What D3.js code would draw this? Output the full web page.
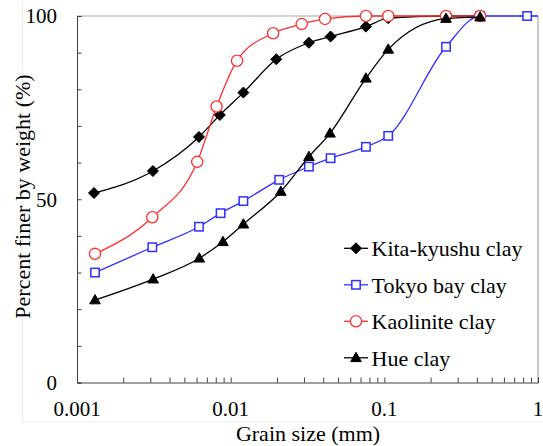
<!DOCTYPE html>
<html>
<head>
<meta charset="utf-8">
<script src="https://cdn.jsdelivr.net/npm/d3@7"></script>
<style>
  body { margin: 0; background: #fff; }
</style>
</head>
<body>
<div id="chart"></div>
<script>
// grain size (mm) and percent finer (%)
const kitaSize = [0.00129, 0.00312, 0.00622, 0.0085, 0.0121, 0.0198, 0.0323, 0.0447, 0.0759, 0.106, 0.252, 0.42];
const kitaPct = [51.7, 57.7, 67.0, 73.0, 79.1, 88.2, 92.7, 94.4, 97.1, 99.4, 100, 100];

const tokyoSize = [0.00131, 0.00309, 0.00622, 0.0086, 0.0121, 0.0207, 0.0323, 0.0447, 0.0759, 0.106, 0.252, 0.42, 0.85, 2.0];
const tokyoPct = [30.0, 36.9, 42.5, 46.2, 49.5, 55.3, 58.9, 61.2, 64.3, 67.3, 91.6, 100, 100, 100];

const kaoSize = [0.00131, 0.00309, 0.00606, 0.0081, 0.011, 0.0189, 0.029, 0.0411, 0.0759, 0.106, 0.252, 0.42];
const kaoPct = [35.1, 45.1, 60.2, 75.3, 87.8, 95.3, 97.8, 99.2, 100, 100, 100, 100];

const hueSize = [0.00131, 0.00313, 0.00625, 0.0089, 0.0121, 0.0212, 0.0323, 0.0443, 0.0759, 0.106, 0.252, 0.42];
const huePct = [22.5, 28.2, 33.9, 38.4, 43.2, 52.1, 61.6, 68.0, 83.0, 90.9, 99.3, 99.7];

const seriesNames = ['Kita-kyushu clay', 'Tokyo bay clay', 'Kaolinite clay', 'Hue clay'];
const xTickLabels = ['0.001', '0.01', '0.1', '1'];
const yTickLabels = [0, 50, 100];

const FONT = '"Liberation Serif", "Times New Roman", Times';
const W = 543, H = 446;
const m = { left: 77, top: 16, right: 5, bottom: 63.5 };
const iw = W - m.left - m.right;
const ih = H - m.top - m.bottom;

const svg = d3.select('#chart').append('svg')
    .attr('width', W)
    .attr('height', H)
    .style('font-family', FONT);

// faint outer chart frame
svg.append('line').attr('x1', 22.5).attr('x2', 22.5).attr('y1', 0).attr('y2', 422)
    .attr('stroke', '#ececec');
svg.append('line').attr('x1', 22.5).attr('x2', W).attr('y1', 422).attr('y2', 422)
    .attr('stroke', '#ececec');

const x = d3.scaleLog().domain([0.001, 1]).range([0, iw]);
const y = d3.scaleLinear().domain([0, 100]).range([ih, 0]);

const g = svg.append('g').attr('transform', `translate(${m.left},${m.top})`);

g.append('clipPath').attr('id', 'clip')
    .append('rect').attr('x', -10).attr('y', -20).attr('width', iw + 10).attr('height', ih + 40);

// top and right frame lines (grey)
g.append('line').attr('x1', 0).attr('x2', iw).attr('y1', 0).attr('y2', 0)
    .attr('stroke', '#a6a6a6').attr('stroke-width', 1.2);
g.append('line').attr('x1', iw).attr('x2', iw).attr('y1', 0).attr('y2', ih)
    .attr('stroke', '#a6a6a6').attr('stroke-width', 1.2);

// x axis: ticks pointing inward
const xAxis = d3.axisTop(x)
    .tickValues(d3.range(-3, 0).flatMap(e => d3.range(1, 10).map(k => k * Math.pow(10, e))).concat([1]))
    .tickSize(5)
    .tickFormat('');
const gx = g.append('g').attr('transform', `translate(0,${ih})`).call(xAxis);
gx.select('.domain').attr('stroke', '#404040');
gx.selectAll('.tick line').attr('stroke', '#404040');

g.append('g').selectAll('text')
    .data(xTickLabels)
    .enter().append('text')
    .attr('x', d => x(+d))
    .attr('y', ih + 33.5)
    .attr('text-anchor', 'middle')
    .style('font-family', FONT)
    .attr('font-size', 21)
    .text(d => d);

// y axis
const yAxis = d3.axisRight(y).tickValues(d3.range(0, 101, 10)).tickSize(4.5).tickFormat('');
const gy = g.append('g').call(yAxis);
gy.select('.domain').attr('stroke', '#404040');
gy.selectAll('.tick line').attr('stroke', '#404040');

g.append('g').selectAll('text')
    .data(yTickLabels)
    .enter().append('text')
    .attr('x', -20)
    .attr('y', d => y(d))
    .attr('dy', '0.35em')
    .attr('text-anchor', 'end')
    .style('font-family', FONT)
    .attr('font-size', 21)
    .text(d => d);

// axis titles
svg.append('text')
    .attr('x', 308).attr('y', 441)
    .attr('text-anchor', 'middle')
    .style('font-family', FONT)
    .attr('font-size', 22)
    .text('Grain size (mm)');
svg.append('text')
    .attr('transform', 'translate(30,196.5) rotate(-90)')
    .attr('text-anchor', 'middle')
    .style('font-family', FONT)
    .attr('font-size', 22)
    .text('Percent finer by weight (%)');

// markers
function marker(sel, type, color) {
    if (type === 'diamond') {
        sel.append('path').attr('d', 'M0,-5.5L5.5,0L0,5.5L-5.5,0Z').attr('fill', color).attr('stroke', color);
    } else if (type === 'square') {
        sel.append('rect').attr('x', -4.2).attr('y', -4.2).attr('width', 8.4).attr('height', 8.4)
            .attr('fill', '#fff').attr('stroke', color).attr('stroke-width', 1.5);
    } else if (type === 'circle') {
        sel.append('circle').attr('r', 5.6).attr('fill', '#fff').attr('stroke', color).attr('stroke-width', 1.3);
    } else {
        sel.append('path').attr('d', 'M0,-5.5L5.3,3.8L-5.3,3.8Z').attr('fill', color).attr('stroke', color);
    }
}

const series = [
    { name: seriesNames[0], xs: kitaSize, ys: kitaPct, color: '#000', type: 'diamond' },
    { name: seriesNames[1], xs: tokyoSize, ys: tokyoPct, color: '#2f2fff', type: 'square' },
    { name: seriesNames[2], xs: kaoSize, ys: kaoPct, color: '#ff2f2f', type: 'circle' },
    { name: seriesNames[3], xs: hueSize, ys: huePct, color: '#000', type: 'triangle' }
];

const line = d3.line()
    .x(d => x(d[0]))
    .y(d => y(d[1]))
    .curve(d3.curveMonotoneX);

const plot = g.append('g').attr('clip-path', 'url(#clip)');

series.forEach(s => {
    const pts = s.xs.map((v, i) => [v, s.ys[i]]);
    plot.append('path')
        .datum(pts)
        .attr('d', line)
        .attr('fill', 'none')
        .attr('stroke', s.color)
        .attr('stroke-width', 1.3);
    plot.selectAll(null)
        .data(pts)
        .enter().append('g')
        .attr('transform', d => `translate(${x(d[0])},${y(d[1])})`)
        .each(function () { marker(d3.select(this), s.type, s.color); });
});

// legend
const legend = svg.append('g');
series.forEach((s, i) => {
    const row = legend.append('g').attr('transform', `translate(356,${248.3 + i * 36.5})`);
    row.append('line').attr('x1', -12).attr('x2', 12).attr('stroke', s.color).attr('stroke-width', 1.3);
    marker(row, s.type, s.color);
    row.append('text')
        .attr('x', 15.5)
        .attr('dy', '0.35em')
        .style('font-family', FONT)
        .attr('font-size', 22)
        .text(s.name);
});
</script>
</body>
</html>
